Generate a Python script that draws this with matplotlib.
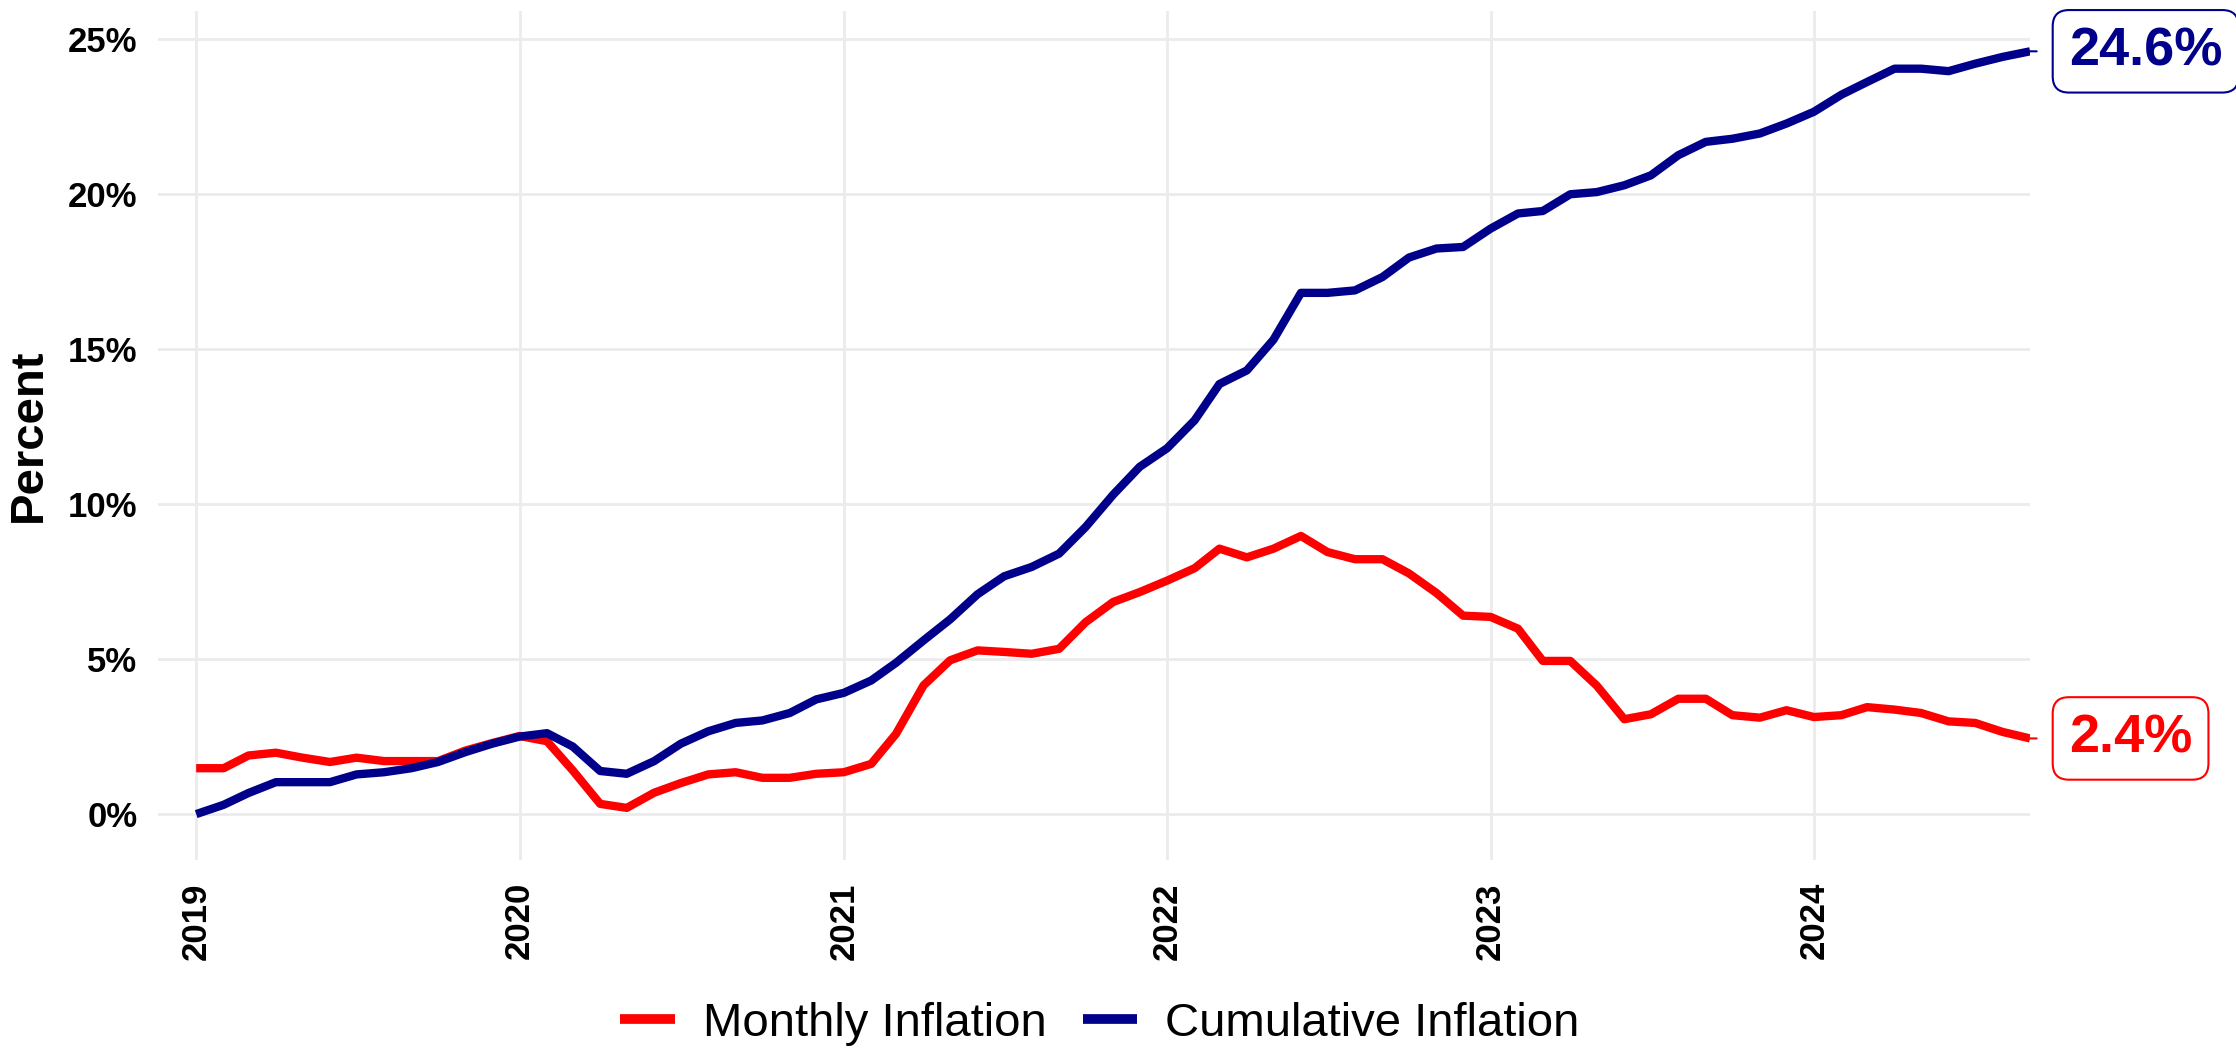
import matplotlib
matplotlib.use("Agg")
import matplotlib.pyplot as plt
import matplotlib.dates as mdates
import pandas as pd

plt.rcParams['font.family'] = ['Liberation Sans', 'DejaVu Sans']

# monthly data, Jan 2019 .. Sep 2024
months = pd.date_range('2019-01-01', periods=69, freq='MS')

monthly_inflation = [
    1.48, 1.48, 1.89, 1.98, 1.82, 1.68, 1.82, 1.71, 1.71, 1.71, 2.05, 2.29,
    2.52, 2.35, 1.41, 0.33, 0.20, 0.69, 1.00, 1.28, 1.35, 1.17, 1.17, 1.30,
    1.35, 1.62, 2.59, 4.15, 4.96, 5.28, 5.23, 5.17, 5.33, 6.19, 6.84, 7.16,
    7.53, 7.93, 8.56, 8.28, 8.56, 8.97, 8.45, 8.22, 8.22, 7.76, 7.13, 6.40,
    6.36, 5.98, 4.94, 4.94, 4.14, 3.06, 3.22, 3.72, 3.72, 3.19, 3.11, 3.35,
    3.13, 3.19, 3.45, 3.37, 3.26, 2.99, 2.94, 2.65, 2.44,
]

cumulative_inflation = [
    0.00, 0.30, 0.68, 1.03, 1.03, 1.03, 1.28, 1.35, 1.48, 1.68, 2.00, 2.27,
    2.50, 2.61, 2.18, 1.39, 1.30, 1.71, 2.27, 2.67, 2.94, 3.02, 3.26, 3.70,
    3.91, 4.31, 4.88, 5.60, 6.28, 7.09, 7.67, 7.97, 8.40, 9.26, 10.30, 11.20,
    11.80, 12.70, 13.87, 14.31, 15.30, 16.81, 16.81, 16.89, 17.32, 17.95, 18.24, 18.29,
    18.88, 19.37, 19.45, 19.99, 20.06, 20.28, 20.60, 21.25, 21.68, 21.78, 21.95, 22.27,
    22.65, 23.20, 23.61, 24.04, 24.04, 23.96, 24.20, 24.42, 24.60,
]

series_names = ['Monthly Inflation', 'Cumulative Inflation']
series_colors = ['#FF0000', '#00008B']

fig = plt.figure(figsize=(22.36, 10.48), dpi=100)
ax = fig.add_axes([0.0707, 0.1794, 0.9079 - 0.0707, 0.9895 - 0.1794])

for vals, name, col in zip([monthly_inflation, cumulative_inflation], series_names, series_colors):
    ax.plot(months, vals, color=col, lw=6, label=name, solid_joinstyle='round',
            solid_capstyle='butt', zorder=3)
    last = vals[-1]
    ax.annotate(f'{last:.1f}%', xy=(months[-1], last), xytext=(28, 0),
                textcoords='offset points', ha='left', va='center',
                fontsize=39, fontweight='bold', color=col,
                bbox=dict(boxstyle='round,pad=0.3,rounding_size=0.3', fc='white', ec=col, lw=1.5),
                arrowprops=dict(arrowstyle='-', color=col, lw=1.5, shrinkA=11, shrinkB=0),
                annotation_clip=False, zorder=4)

ax.set_xlim(months[0] - pd.Timedelta(days=43), months[-1])
ax.set_ylim(-1.48, 25.9)
ax.set_yticks([0, 5, 10, 15, 20, 25])
ax.yaxis.set_major_formatter(plt.FuncFormatter(lambda v, p: f'{v:.0f}%'))
ax.xaxis.set_major_locator(mdates.YearLocator())
ax.xaxis.set_major_formatter(mdates.DateFormatter('%Y'))

ax.grid(True, color='#EBEBEB', lw=2)
ax.set_axisbelow(True)
for s in ax.spines.values():
    s.set_visible(False)
ax.tick_params(axis='both', length=0, labelsize=25)
ax.tick_params(axis='x', pad=16, labelrotation=90)
ax.tick_params(axis='y', pad=15)
for lab in ax.get_xticklabels() + ax.get_yticklabels():
    lab.set_fontweight('bold')

ax.set_ylabel('Percent', fontsize=34, fontweight='bold', labelpad=12)

fig.legend(loc='center', bbox_to_anchor=(0.492, 0.023), ncol=2, frameon=False,
           fontsize=34, handlelength=1.15, handletextpad=0.6, columnspacing=0.76)
for h in fig.legends[0].get_lines():
    h.set_linewidth(7)

fig.savefig('out.png', dpi=100, facecolor='white')
